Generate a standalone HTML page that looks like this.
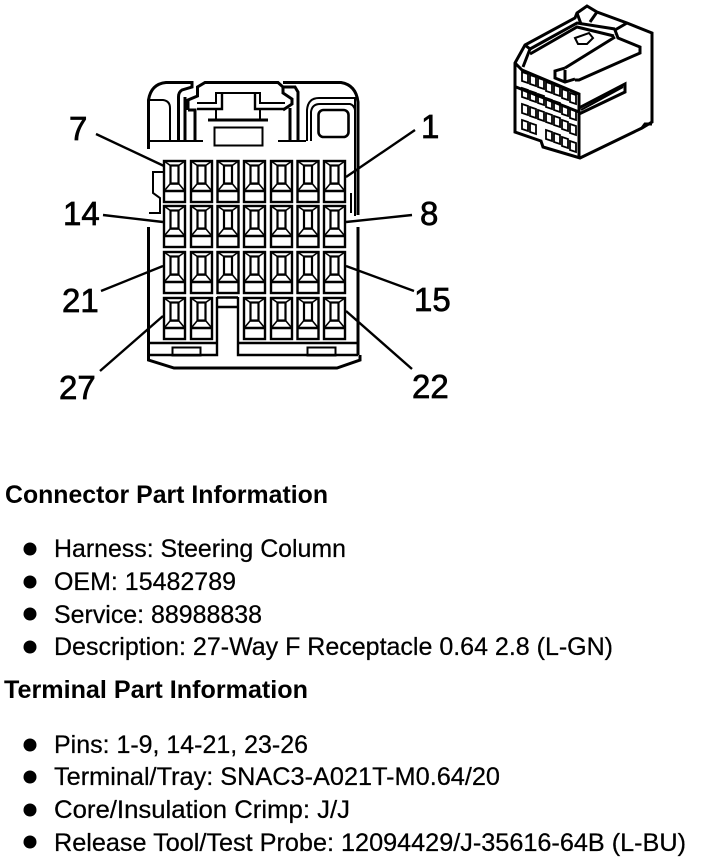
<!DOCTYPE html>
<html><head><meta charset="utf-8">
<style>
html,body{margin:0;padding:0;background:#fff;width:704px;height:862px;overflow:hidden}
svg{position:absolute;left:0;top:0;display:block}
text{font-family:"Liberation Sans",Arial,sans-serif;fill:#000}
.b{font-weight:bold;font-size:25px}
.t{font-size:25px;stroke:#000;stroke-width:.25px}
.n{font-size:33px;stroke:#000;stroke-width:.7px}
</style></head><body>
<svg width="704" height="862" viewBox="0 0 704 862" fill="none" stroke="#000" stroke-linejoin="miter">
<defs>
<g id="c">
<rect x="1" y="1" width="21" height="41" stroke-width="2.4"/>
<path d="M1 31H22" stroke-width="2.4"/>
<path d="M2 30L7 24H16L21 30" stroke-width="1.6"/>
<rect x="7.500" y="5.500" width="8" height="18" stroke-width="2.2"/>
<path d="M1 1L8 6M22 1L15 6" stroke-width="1.5"/>
</g>
</defs>

<!-- main connector body -->
<g stroke-width="3">
<path d="M148.500 149V100Q151 84 166 82.500H192V87L182 90Q178.500 92 178.500 97V141"/>
<path d="M188 110V100L197.500 96V87L205 82.500H278L283 87V93L292 99V104L283 110"/>
<path d="M283 82.500H341Q356 85 358 102V215"/>
<path d="M283 87H295L298 92V141"/>
<path d="M188 110H195V141"/>
<path d="M185 141V97"/>
<path d="M290 108V141"/>
<path d="M358 227V355"/>
<path d="M148.500 227V360L174 368H337L360 360V355"/>
</g>
<g stroke-width="2">
<path d="M150 100H163Q170 101 170 108V141"/>
<path d="M150 141H203"/>
<path d="M278 141H306"/>
<path d="M197 103H216V93H260V103H285"/>
<path d="M197 109H222V93M255 93V109H285" stroke-width="2.4"/>
<path d="M216 109V120M260 109V120"/>
<path d="M208 120H268" stroke-width="3"/>
<rect x="214.500" y="127.500" width="48" height="18"/>
<path d="M307 141V110Q308 98 319 98H355V216"/>
<path d="M311 141V112Q312 104 320 104H350Q354 105 355 110"/>
<rect x="318.500" y="110" width="30" height="27" rx="5" stroke-width="2.6"/>
<path d="M163 172H153V193L160 198V213H149"/>
<path d="M351 193V213"/>
</g>
<g stroke-width="2.400">
<path d="M150 355H217V297M238 297V355H358"/>
<path d="M150 343H217M238 343H358"/>
<path d="M217 297.500H238M217 307H238"/>
<rect x="172.500" y="347.500" width="28" height="8" stroke-width="2"/>
<rect x="307.500" y="347.500" width="28" height="8" stroke-width="2"/>
</g>

<!-- terminal cells -->
<use href="#c" x="163" y="160"/><use href="#c" x="190" y="160"/><use href="#c" x="216.500" y="160"/><use href="#c" x="243" y="160"/><use href="#c" x="270" y="160"/><use href="#c" x="296.500" y="160"/><use href="#c" x="323" y="160"/>
<use href="#c" x="163" y="205"/><use href="#c" x="190" y="205"/><use href="#c" x="216.500" y="205"/><use href="#c" x="243" y="205"/><use href="#c" x="270" y="205"/><use href="#c" x="296.500" y="205"/><use href="#c" x="323" y="205"/>
<use href="#c" x="163" y="251"/><use href="#c" x="190" y="251"/><use href="#c" x="216.500" y="251"/><use href="#c" x="243" y="251"/><use href="#c" x="270" y="251"/><use href="#c" x="296.500" y="251"/><use href="#c" x="323" y="251"/>
<use href="#c" x="163" y="297"/><use href="#c" x="190" y="297"/><use href="#c" x="243" y="297"/><use href="#c" x="270" y="297"/><use href="#c" x="296.500" y="297"/><use href="#c" x="323" y="297"/>

<!-- leader lines -->
<g stroke-width="2.400">
<path d="M96 134L164 166"/>
<path d="M415 130L346 177"/>
<path d="M103 215L163 222"/>
<path d="M412 215L346 222"/>
<path d="M101 291L163 266"/>
<path d="M414 291L346 266"/>
<path d="M100 371L163 316"/>
<path d="M412 369L346 311"/>
</g>

<!-- 3D connector view -->
<g stroke-width="3">
<path d="M515 63L525 45L575 18L577 13L587 6L597 12L627 23L652 33V122L642 128L580 158L543 147L541 141L515 132Z"/>
<path d="M515 63L522 70L579 94V158"/>
<path d="M525 45L530 49L523 67"/>
<path d="M530 49L577 23L615 29"/>
<path d="M577 13L581 24"/>
<path d="M597 12L590 22"/>
<path d="M627 23L615 30L618 38L640 47V53L579 80H575"/>
<path d="M530 54L577 27L614 36"/>
<path d="M575 79L565 82L555 78V71L565 68"/>
<path d="M565 68L615 37"/>
<path d="M565 82V70"/>
<path d="M579 108L625 84V92L579 114"/>
<path d="M516 87L579 112"/>
<path d="M642 128L645 124H652"/>
</g>
<g stroke-width="2">
<path d="M575 38L589 33L593 38L587 44L578 44Z"/>
<path d="M581 110L623 87"/>
</g>
<g stroke-width="1.800">
<path d="M522 72l6 2v9l-6-2zM530 75l6 2v9l-6-2zM538 78l6 2v9l-6-2zM546 82l6 2v9l-6-2zM554 85l6 2v9l-6-2zM562 89l6 2v9l-6-2zM570 93l6 2v9l-6-2z"/>
<path d="M522 88l6 2v9l-6-2zM530 91l6 2v9l-6-2zM538 94l6 2v9l-6-2zM546 98l6 2v9l-6-2zM554 101l6 2v9l-6-2zM562 105l6 2v9l-6-2zM570 109l6 2v9l-6-2z"/>
<path d="M522 104l6 2v9l-6-2zM530 107l6 2v9l-6-2zM538 110l6 2v9l-6-2zM546 113l6 2v9l-6-2zM554 116l6 2v9l-6-2zM562 120l6 2v9l-6-2zM570 124l6 2v9l-6-2z"/>
<path d="M522 120l6 2v9l-6-2zM530 123l6 2v9l-6-2zM546 130l6 2v9l-6-2zM554 133l6 2v9l-6-2zM562 137l6 2v9l-6-2zM570 141l6 2v9l-6-2z"/>
</g>

<!-- bullets -->
<g fill="#000" stroke="none">
<circle cx="30" cy="549" r="6.5"/>
<circle cx="30" cy="582" r="6.5"/>
<circle cx="30" cy="614" r="6.5"/>
<circle cx="30" cy="647" r="6.5"/>
<circle cx="30" cy="745" r="6.5"/>
<circle cx="30" cy="777" r="6.5"/>
<circle cx="30" cy="810" r="6.5"/>
<circle cx="30" cy="842" r="6.5"/>
</g>

<!-- text -->
<g stroke="none">
<text class="n" x="69" y="140">7</text>
<text class="n" x="421" y="138">1</text>
<text class="n" x="63" y="225">14</text>
<text class="n" x="420" y="225">8</text>
<text class="n" x="62" y="312">21</text>
<text class="n" x="414" y="311">15</text>
<text class="n" x="59" y="399">27</text>
<text class="n" x="412" y="398">22</text>
<text class="b" x="5" y="503" textLength="323" lengthAdjust="spacingAndGlyphs">Connector Part Information</text>
<text class="t" x="54" y="557" textLength="292" lengthAdjust="spacingAndGlyphs">Harness: Steering Column</text>
<text class="t" x="54" y="590" textLength="182" lengthAdjust="spacingAndGlyphs">OEM: 15482789</text>
<text class="t" x="54" y="623" textLength="208" lengthAdjust="spacingAndGlyphs">Service: 88988838</text>
<text class="t" x="54" y="655" textLength="559" lengthAdjust="spacingAndGlyphs">Description: 27-Way F Receptacle 0.64 2.8 (L-GN)</text>
<text class="b" x="4" y="698" textLength="304" lengthAdjust="spacingAndGlyphs">Terminal Part Information</text>
<text class="t" x="54" y="753" textLength="254" lengthAdjust="spacingAndGlyphs">Pins: 1-9, 14-21, 23-26</text>
<text class="t" x="54" y="785" textLength="446" lengthAdjust="spacingAndGlyphs">Terminal/Tray: SNAC3-A021T-M0.64/20</text>
<text class="t" x="54" y="818" textLength="296" lengthAdjust="spacingAndGlyphs">Core/Insulation Crimp: J/J</text>
<text class="t" x="54" y="851" textLength="632" lengthAdjust="spacingAndGlyphs">Release Tool/Test Probe: 12094429/J-35616-64B (L-BU)</text>
</g>
</svg>
</body></html>
